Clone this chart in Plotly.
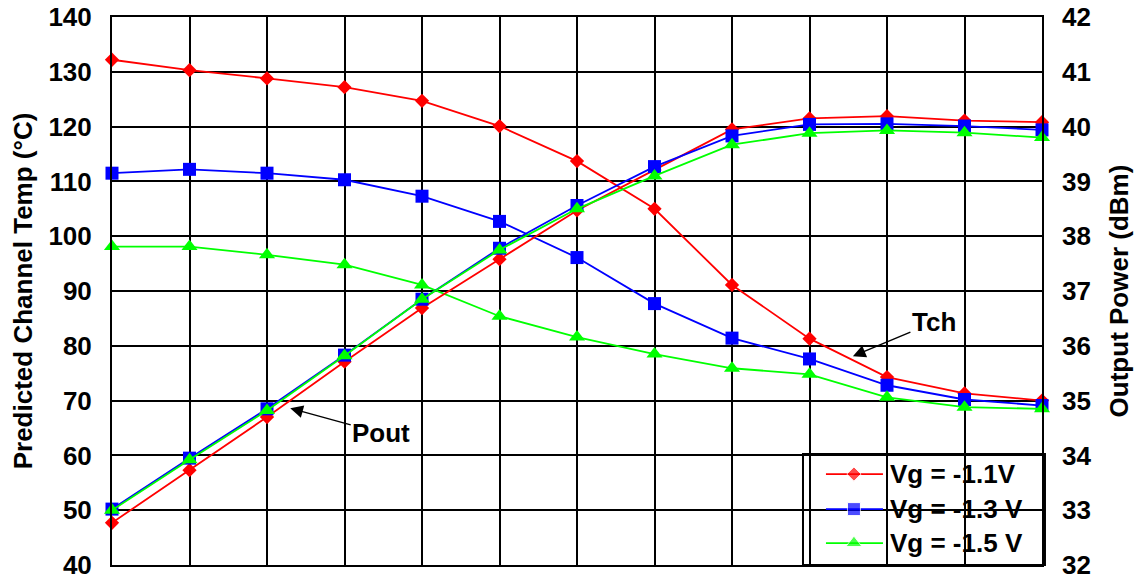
import plotly.graph_objects as go

# input drive steps (x axis has no visible labels in the source chart)
steps = [0, 1, 2, 3, 4, 5, 6, 7, 8, 9, 10, 11, 12]

series_names = ["Vg = -1.1V", "Vg = -1.3 V", "Vg = -1.5 V"]

# predicted channel temperature, degC (left axis)
tch_11 = [132.2, 130.3, 128.8, 127.2, 124.7, 120.1, 113.7, 105.0, 91.1, 81.3, 74.3, 71.3, 70.0]
tch_13 = [111.5, 112.2, 111.5, 110.3, 107.3, 102.7, 96.1, 87.7, 81.4, 77.6, 72.8, 70.2, 69.1]
tch_15 = [98.1, 98.1, 96.6, 94.8, 91.1, 85.4, 81.6, 78.5, 75.9, 74.8, 70.6, 68.8, 68.5]

# output power, dBm (right axis)
pout_11 = [32.77, 33.73, 34.70, 35.71, 36.69, 37.58, 38.47, 39.21, 39.95, 40.15, 40.19, 40.11, 40.08]
pout_13 = [33.02, 33.95, 34.85, 35.83, 36.85, 37.78, 38.56, 39.27, 39.83, 40.04, 40.05, 40.01, 39.94]
pout_15 = [33.00, 33.92, 34.82, 35.82, 36.85, 37.75, 38.50, 39.10, 39.67, 39.88, 39.93, 39.89, 39.80]

FONT = "Arial, Liberation Sans, sans-serif"
colors = ["#ff0000", "#0000ff", "#00ff00"]
symbols = ["diamond", "square", "triangle-up"]
sizes = [11, 13, 14]

fig = go.Figure()

for name, tch, col, sym, sz in zip(series_names, [tch_11, tch_13, tch_15], colors, symbols, sizes):
    fig.add_trace(go.Scatter(
        x=steps, y=tch, name=name, mode="lines+markers", showlegend=False,
        line=dict(color=col, width=1.8),
        marker=dict(symbol=sym, size=sz, color=col),
        cliponaxis=False,
    ))

for name, pout, col, sym, sz in zip(series_names, [pout_11, pout_13, pout_15], colors, symbols, sizes):
    fig.add_trace(go.Scatter(
        x=steps, y=pout, name=name, showlegend=False,
        mode="lines+markers", yaxis="y2",
        line=dict(color=col, width=1.8),
        marker=dict(symbol=sym, size=sz, color=col),
        cliponaxis=False,
    ))

# hand-built legend box (Excel-style: long line samples, transparent box)
# drawn on a hidden 0..1 overlay axis pair
leg_rows = [0.166, 0.102, 0.040]
leg_x = [0.7677, 0.7978, 0.8290]
for name, col, sym, sz, ry in zip(series_names, colors, symbols, sizes, leg_rows):
    fig.add_trace(go.Scatter(
        x=leg_x, y=[ry] * 3, xaxis="x3", yaxis="y3", mode="lines+markers",
        showlegend=False, hoverinfo="skip", cliponaxis=False,
        line=dict(color=col, width=1.8),
        marker=dict(symbol=sym, size=[0, sz, 0], color=col),
    ))
    fig.add_annotation(
        x=0.8344, y=ry, xref="paper", yref="paper", text=name, showarrow=False,
        xanchor="left", yanchor="middle",
        font=dict(family=FONT, size=26, color="black", weight="bold"),
    )
fig.add_shape(type="rect", xref="paper", yref="paper",
              x0=0.743, x1=1.0032, y0=0, y1=0.2026,
              line=dict(color="black", width=2))

tick_font = dict(family=FONT, size=26, color="black", weight="bold")

fig.update_layout(
    width=1147, height=579,
    margin=dict(l=112, r=105, t=17, b=14, autoexpand=False),
    paper_bgcolor="white", plot_bgcolor="white",
    font=dict(family=FONT, color="black"),
    showlegend=False,
    xaxis=dict(
        range=[0, 12], dtick=1, showticklabels=False, automargin=False,
        showgrid=True, gridcolor="black", gridwidth=2,
        showline=True, linecolor="black", linewidth=2, mirror=True,
        zeroline=False,
    ),
    yaxis=dict(
        range=[40, 140], dtick=10, tickfont=tick_font, automargin=False,
        showgrid=True, gridcolor="black", gridwidth=2,
        showline=True, linecolor="black", linewidth=2, mirror=True,
        zeroline=False, ticks="", ticklabelstandoff=13,
        ticklabeloverflow="allow",
        title=dict(text="Predicted Channel Temp (°C)", font=tick_font, standoff=8),
    ),
    yaxis2=dict(
        range=[32, 42], dtick=1, tickfont=tick_font, automargin=False,
        overlaying="y", side="right", showgrid=False, zeroline=False,
        ticks="", ticklabelstandoff=19, ticklabeloverflow="allow",
        title=dict(text="Output Power (dBm)", font=tick_font, standoff=19),
    ),
    xaxis3=dict(range=[0, 1], overlaying="x", visible=False, fixedrange=True),
    yaxis3=dict(range=[0, 1], overlaying="y", visible=False, fixedrange=True),
)

label_font = dict(family=FONT, size=26, color="black", weight="bold")
fig.add_annotation(
    x=9.56, y=78.1, xref="x", yref="y", text="Tch", font=label_font,
    showarrow=True, arrowhead=2, arrowsize=1.7, arrowwidth=1.5, arrowcolor="black",
    ax=81, ay=-34,
)
fig.add_annotation(
    x=2.30, y=68.6, xref="x", yref="y", text="Pout", font=label_font,
    showarrow=True, arrowhead=2, arrowsize=1.7, arrowwidth=1.5, arrowcolor="black",
    ax=91, ay=25,
)

# drop the default page margin so the figure fills the window exactly
fig.write_html(
    "out.html",
    config={"displayModeBar": False},
    post_script="document.body.style.margin='0px';",
)
